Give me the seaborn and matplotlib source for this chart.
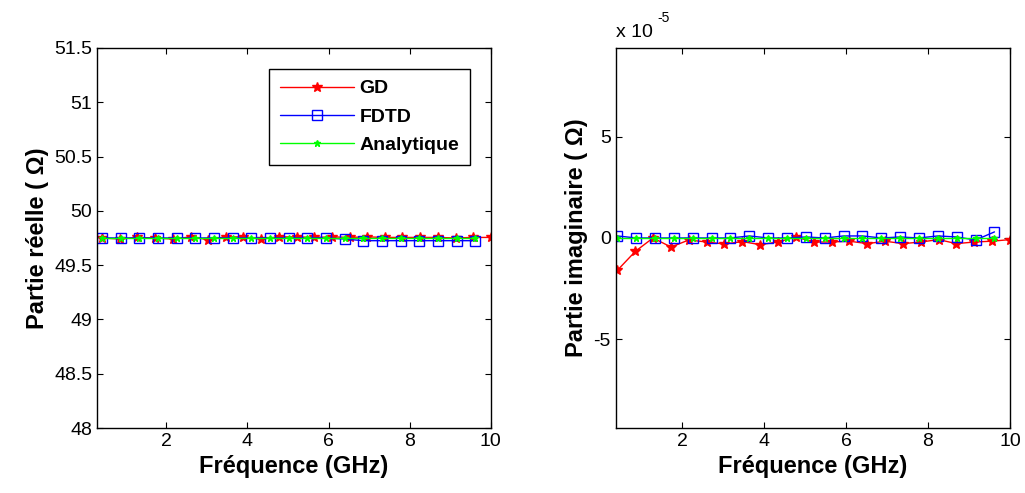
import numpy as np
import pandas as pd
import matplotlib
matplotlib.use("Agg")
import matplotlib.pyplot as plt
import matplotlib.ticker as mticker
import seaborn as sns

# Frequencies (GHz)
freq_gd = [0.42, 0.86, 1.29, 1.73, 2.16, 2.60, 3.03, 3.47, 3.90, 4.34, 4.77, 5.21,
           5.65, 6.08, 6.52, 6.95, 7.39, 7.82, 8.26, 8.69, 9.13, 9.56, 10.00]
freq_fdtd = [0.42, 0.88, 1.34, 1.80, 2.26, 2.72, 3.18, 3.64, 4.10, 4.56, 5.02,
             5.48, 5.94, 6.40, 6.86, 7.32, 7.78, 8.24, 8.70, 9.16, 9.62]

# Real part (Ohm)
re_gd = [49.75, 49.74, 49.755, 49.75, 49.74, 49.76, 49.735, 49.76, 49.76, 49.74,
         49.76, 49.76, 49.755, 49.76, 49.755, 49.76, 49.755, 49.755, 49.755,
         49.755, 49.75, 49.755, 49.755]
re_fdtd = [49.75, 49.75, 49.75, 49.75, 49.75, 49.75, 49.75, 49.75, 49.75, 49.75,
           49.75, 49.75, 49.75, 49.74, 49.725, 49.725, 49.725, 49.725, 49.725,
           49.725, 49.725]
re_ana = [49.75] * 21

# Imaginary part (x 1e-5 Ohm)
im_gd = [-1.6, -0.66, 0.0, -0.45, -0.1, -0.2, -0.3, -0.18, -0.33, -0.2, 0.05,
         -0.2, -0.2, -0.16, -0.28, -0.16, -0.28, -0.2, -0.08, -0.28, -0.2, -0.16,
         -0.08]
im_fdtd = [0.1, 0.0, 0.0, 0.0, 0.0, 0.0, 0.0, 0.1, 0.0, 0.0, 0.05, 0.0, 0.1, 0.1,
           0.0, 0.05, 0.0, 0.1, 0.05, -0.1, 0.3]
im_ana = [0.0] * 21

labels = ['GD', 'FDTD', 'Analytique']
colors = ['#ff0000', '#0000ff', '#00ff00']
markers = ['*', 's', '*']
msizes = [7, 6.5, 5]

sns.set_style("ticks")
plt.rcParams['font.family'] = ['Liberation Sans', 'DejaVu Sans']
plt.rcParams['xtick.direction'] = 'in'
plt.rcParams['ytick.direction'] = 'in'
plt.rcParams['axes.linewidth'] = 1.0
plt.rcParams['axes.unicode_minus'] = False
for key in ['text.color', 'axes.labelcolor', 'xtick.color', 'ytick.color',
            'axes.edgecolor']:
    plt.rcParams[key] = 'black'

fig = plt.figure(figsize=(10.25, 4.93), dpi=100)
ax1 = fig.add_axes([0.0949, 0.1318, 0.384, 0.771])
ax2 = fig.add_axes([0.6007, 0.1318, 0.3847, 0.771])


def draw(ax, ys):
    xs = [freq_gd, freq_fdtd, freq_fdtd]
    for lab, x, y, c, m, ms in zip(labels, xs, ys, colors, markers, msizes):
        df = pd.DataFrame({'f': x, 'v': y})
        sns.lineplot(data=df, x='f', y='v', ax=ax, label=lab, linewidth=1.0,
                     color=c, marker=m, markersize=ms)
        line = ax.get_lines()[-1]
        line.set_markeredgecolor(c)
        line.set_markerfacecolor('none' if m == 's' else c)
        line.set_markeredgewidth(1.0)
    ax.tick_params(top=True, right=True, labelsize=14, length=4, width=0.8)
    ax.set_xticks([2, 4, 6, 8, 10])
    ax.set_xlabel('Fréquence (GHz)', fontsize=17, fontweight='bold')


draw(ax1, [re_gd, re_fdtd, re_ana])
ax1.set_xlim(0.3, 10)
ax1.set_ylim(48, 51.5)
ax1.set_yticks(np.arange(48, 51.51, 0.5))
ax1.yaxis.set_major_formatter(mticker.FuncFormatter(lambda v, p: f'{v:g}'))
ax1.set_ylabel('Partie réelle ( Ω)', fontsize=17, fontweight='bold')
leg = ax1.legend(loc='upper right', bbox_to_anchor=(0.972, 0.97),
                 prop={'weight': 'bold', 'size': 14}, frameon=True, fancybox=False,
                 edgecolor='black', handlelength=3.8, borderpad=0.55,
                 labelspacing=0.55, handletextpad=0.3, framealpha=1)
leg.get_frame().set_linewidth(1.0)
for h, c, m in zip(leg.legend_handles, colors, markers):
    h.set_markeredgecolor(c)
    h.set_markerfacecolor('none' if m == 's' else c)

draw(ax2, [im_gd, im_fdtd, im_ana])
ax2.set_xlim(0.38, 10)
ax2.set_ylim(-9.4, 9.4)
ax2.set_yticks([-5, 0, 5])
ax2.set_ylabel('Partie imaginaire ( Ω)', fontsize=17, fontweight='bold')
ax2.legend().remove()
ax2.text(0.0, 1.018, 'x 10', transform=ax2.transAxes, fontsize=14,
         ha='left', va='bottom')
ax2.text(0.105, 1.06, '-5', transform=ax2.transAxes, fontsize=10,
         ha='left', va='bottom')

fig.savefig('out.png', dpi=100)
